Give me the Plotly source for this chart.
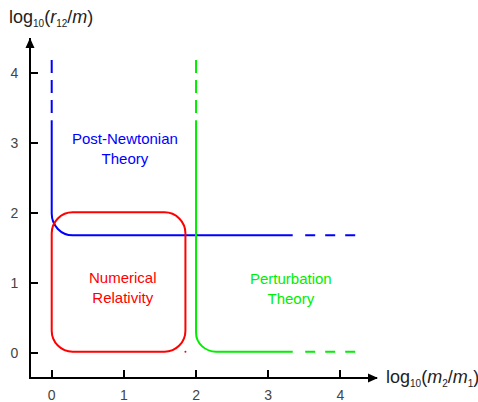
import plotly.graph_objects as go

# ---- data (diagram values, in axis units) ----
x_ticks = [0, 1, 2, 3, 4]
y_ticks = [0, 1, 2, 3, 4]

# Post-Newtonian boundary (blue): vertical at x=pn_x, horizontal at y=pn_y
pn_x = 0.0
pn_y = 1.685
pn_solid_top = 3.33
pn_dash_top = [4.19, 3.43]
pn_solid_right = 3.34
pn_dash_right = [3.513, 4.207]
pn_radius = [0.29, 0.31]

# Perturbation theory boundary (green)
pt_x = 2.0
pt_y = 0.023
pt_solid_top = 3.33
pt_dash_top = [4.19, 3.43]
pt_solid_right = 3.34
pt_dash_right = [3.513, 4.207]
pt_radius = [0.28, 0.27]

# Numerical relativity box (red)
nr_x = [0.0, 1.853]
nr_y = [0.023, 2.014]
nr_radius = [0.29, 0.30]

labels = ["Post-Newtonian<br>Theory", "Numerical<br>Relativity", "Perturbation<br>Theory"]
label_x = [1.017, 0.985, 3.32]
label_y = [2.93, 0.94, 0.92]

# ---- styles ----
BLUE = "#0000ff"
RED = "#ff0000"
GREEN = "#00ee00"
FONT = "Liberation Sans, Arial, sans-serif"
K = 0.5523

X_RANGE = [-0.287, 4.508]
Y_RANGE = [-0.339, 4.504]


def corner_path(x, y, top, right, r):
    rx, ry = r
    return (f"M {x} {top} L {x} {y + ry} "
            f"C {x} {y + ry * (1 - K)} {x + rx * (1 - K)} {y} {x + rx} {y} "
            f"L {right} {y}")


def rounded_rect(x0, x1, y0, y1, r):
    rx, ry = r
    return (f"M {x0 + rx} {y1} L {x1 - rx} {y1} "
            f"C {x1 - rx * (1 - K)} {y1} {x1} {y1 - ry * (1 - K)} {x1} {y1 - ry} "
            f"L {x1} {y0 + ry} "
            f"C {x1} {y0 + ry * (1 - K)} {x1 - rx * (1 - K)} {y0} {x1 - rx} {y0} "
            f"L {x0 + rx} {y0} "
            f"C {x0 + rx * (1 - K)} {y0} {x0} {y0 + ry * (1 - K)} {x0} {y0 + ry} "
            f"L {x0} {y1 - ry} "
            f"C {x0} {y1 - ry * (1 - K)} {x0 + rx * (1 - K)} {y1} {x0 + rx} {y1} Z")


def sub(s):
    return f"<sub><span style='font-size:10px'>{s}</span></sub>"


fig = go.Figure()

fig.add_trace(go.Scatter(x=[nr_x[1]], y=[nr_y[0]], mode="markers",
                         marker=dict(color=RED, size=2), showlegend=False,
                         hoverinfo="skip"))

shapes = []
for (cx, cy, top, right, r, dtop, dright, col) in [
    (pn_x, pn_y, pn_solid_top, pn_solid_right, pn_radius, pn_dash_top, pn_dash_right, BLUE),
    (pt_x, pt_y, pt_solid_top, pt_solid_right, pt_radius, pt_dash_top, pt_dash_right, GREEN),
]:
    shapes.append(dict(type="path", xref="x", yref="y", path=corner_path(cx, cy, top, right, r),
                       line=dict(color=col, width=2)))
    shapes.append(dict(type="line", xref="x", yref="y", x0=cx, x1=cx, y0=dtop[0], y1=dtop[1],
                       line=dict(color=col, width=2, dash="13px,7px")))
    shapes.append(dict(type="line", xref="x", yref="y", x0=dright[0], x1=dright[1], y0=cy, y1=cy,
                       line=dict(color=col, width=2, dash="10px,10px")))

shapes.append(dict(type="path", xref="x", yref="y",
                   path=rounded_rect(nr_x[0], nr_x[1], nr_y[0], nr_y[1], nr_radius),
                   line=dict(color=RED, width=2)))

# arrowheads at the axis ends
shapes.append(dict(type="path", xref="paper", yref="paper", xsizemode="pixel", ysizemode="pixel",
                   xanchor=1, yanchor=0, path="M 1 -1 L -9 3.5 L -9 -5.5 Z",
                   fillcolor="black", line=dict(color="black", width=0)))
shapes.append(dict(type="path", xref="paper", yref="paper", xsizemode="pixel", ysizemode="pixel",
                   xanchor=0, yanchor=1, path="M -1 0 L -5.5 -10 L 3.5 -10 Z",
                   fillcolor="black", line=dict(color="black", width=0)))

annotations = []
for t, x, y, col in zip(labels, label_x, label_y, [BLUE, RED, GREEN]):
    annotations.append(dict(text=t, x=x, y=y, xref="x", yref="y", showarrow=False,
                            font=dict(family=FONT, size=15, color=col), align="center"))

annotations.append(dict(text=f"log{sub('10')}(<i>m</i>{sub('2')}/<i>m</i>{sub('1')})",
                        x=1.023, y=-0.003, xref="paper", yref="paper", xanchor="left",
                        yanchor="middle", showarrow=False, xshift=-1,
                        font=dict(family=FONT, size=18, color="#222")))
annotations.append(dict(text=f"log{sub('10')}(<i>r</i>{sub('12')}/<i>m</i>)",
                        x=-0.069, y=1.059, xref="paper", yref="paper", xanchor="left",
                        yanchor="middle", showarrow=False,
                        font=dict(family=FONT, size=18, color="#222")))

axis_common = dict(showline=True, linewidth=2, linecolor="black", ticks="inside", ticklen=7,
                   tickwidth=2, tickcolor="black", showgrid=False, zeroline=False,
                   automargin=False,
                   tickfont=dict(family=FONT, size=14, color="#444"), fixedrange=True)

fig.update_layout(
    width=478, height=402,
    margin=dict(l=31, r=101, t=38, b=25, autoexpand=False),
    paper_bgcolor="white", plot_bgcolor="white",
    xaxis=dict(range=X_RANGE, tickvals=x_ticks, ticklabelstandoff=4, **axis_common),
    yaxis=dict(range=Y_RANGE, tickvals=y_ticks, ticklabelstandoff=8, **axis_common),
    shapes=shapes, annotations=annotations, showlegend=False,
)

fig.write_html("out.html", config={"displayModeBar": False},
               post_script="document.body.style.margin='0';document.body.style.overflow='hidden';")
